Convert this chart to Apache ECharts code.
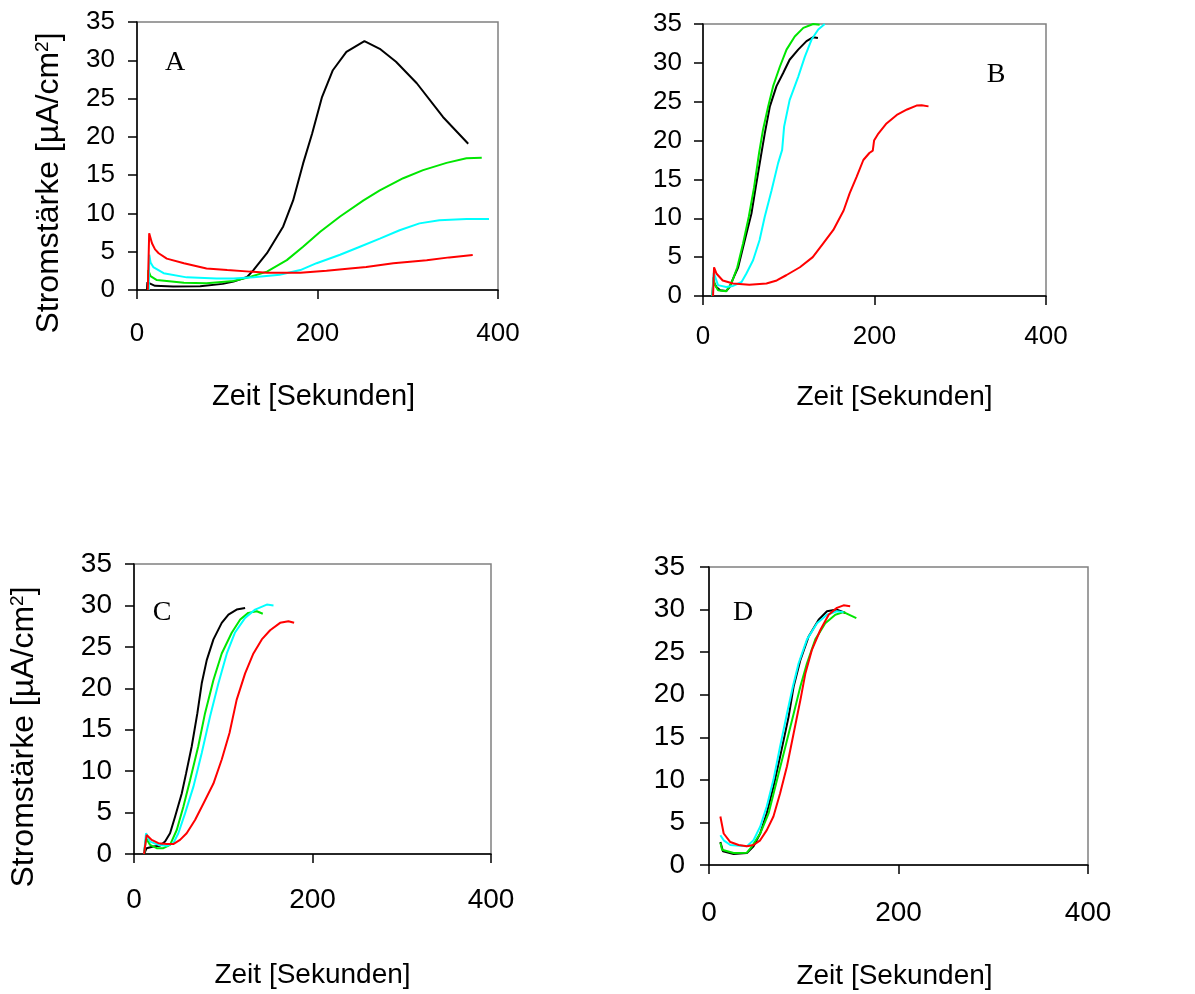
<!DOCTYPE html>
<html>
<head>
<meta charset="utf-8">
<script src="https://cdn.jsdelivr.net/npm/echarts@6/dist/echarts.min.js"></script>
<style>
html,body{margin:0;padding:0;background:#fff;}
#chart{width:1195px;height:994px;}
</style>
</head>
<body>
<div id="chart"></div>
<script>
// ---- Data (x: Zeit [s], y: Stromstärke [µA/cm²]) ----
var xTicks = [0, 200, 400];
var yTicks = [0, 5, 10, 15, 20, 25, 30, 35];
var panelLetters = ['A', 'B', 'C', 'D'];
var seriesColors = ['#000000', '#00e600', '#00ffff', '#ff0000'];

var aBlack = [[11,0],[11.5,1.0],[13,0.8],[20,0.55],[40,0.45],[70,0.5],[95,0.8],[107,1.1],[122,1.7],[129,2.6],[144,4.8],[162,8.3],[173,11.7],[184,16.5],[194,20.4],[205,25.2],[217,28.7],[232,31.1],[252,32.5],[269,31.5],[287,29.8],[310,27],[339,22.6],[367,19.1]];
var aGreen = [[12,0],[12.5,2.6],[15,1.8],[22,1.3],[52,0.96],[77,0.87],[107,1.17],[125,1.7],[144,2.4],[166,3.9],[184,5.65],[203,7.6],[225,9.6],[251,11.7],[269,13.0],[295,14.6],[317,15.65],[343,16.6],[365,17.2],[382,17.26]];
var aCyan = [[13,0],[13.6,4.6],[15,3.6],[18,3.0],[29.5,2.2],[55,1.65],[88,1.5],[107,1.5],[129,1.65],[158,2.0],[181,2.6],[199,3.5],[225,4.6],[247,5.65],[269,6.7],[291,7.8],[313,8.7],[335,9.1],[365,9.26],[390,9.26]];
var aRed = [[12,0],[13.5,7.4],[16.6,6.1],[20,5.3],[24,4.8],[33,4.1],[52,3.5],[77,2.8],[100,2.6],[125,2.4],[144,2.26],[181,2.26],[210,2.5],[236,2.8],[254,3.0],[284,3.5],[321,3.9],[346,4.26],[372,4.57]];

var bBlack = [[11,0],[12,1.9],[15.6,1.16],[20,0.73],[27,0.64],[31,1.16],[35,2.2],[41,3.7],[45,5.5],[50.6,8],[56.5,10.6],[61.5,14],[67.4,17.9],[72,20.9],[78,24.4],[85.7,27],[93.5,28.7],[101,30.4],[111,31.7],[120.7,32.8],[128.5,33.3],[134,33.2]];
var bGreen = [[11,0],[12,2.4],[14,1.4],[17.5,0.73],[27,0.6],[33,1.6],[40,3.7],[46.7,6.75],[53.4,10.2],[59.6,14],[65.4,18.4],[70,21.4],[76,24.4],[81.8,27],[89.6,29.5],[97.4,31.7],[107,33.4],[117,34.5],[128.5,35],[136,34.9]];
var bCyan = [[11,0],[12.5,3.0],[17.5,1.4],[27,1.16],[35,1.3],[45,1.8],[50.6,2.9],[58.4,4.6],[66,7.2],[72,10.2],[80,13.6],[87.6,17.1],[92.3,18.8],[94.6,21.8],[101,25.2],[111,28.2],[118.8,30.8],[126.6,33],[134.4,34.3],[142,35]];
var bRed = [[11.7,0],[12.9,3.7],[15.6,2.9],[23,2.0],[35,1.6],[54,1.46],[74,1.6],[86,2.0],[97,2.67],[113,3.7],[128,5.0],[140,6.75],[152,8.5],[164,11],[171,13.2],[179,15.3],[187,17.5],[194,18.4],[198,18.7],[199.5,20],[204.5,20.9],[214,22.2],[226,23.3],[238,24],[249,24.5],[255,24.55],[263,24.4]];

var cBlack = [[11.2,0],[14.2,0.7],[21.7,0.9],[29,1.0],[34.8,1.5],[40.4,2.5],[46,4.5],[53.5,7.3],[58.3,9.7],[64.7,13],[71,17],[75.9,20.6],[81.5,23.4],[89,25.9],[98.3,27.9],[105.8,28.9],[115,29.5],[124.5,29.7]];
var cGreen = [[11.2,0],[13.5,1.9],[18,1.1],[25.4,0.7],[33,0.7],[40.4,1.1],[47.9,2.9],[55.3,5.7],[62.8,8.9],[72,13],[79.6,17],[89,21],[98.3,24.2],[109.5,26.7],[119,28.3],[128,29.1],[137.6,29.3],[144.3,29]];
var cCyan = [[11.2,0],[13.5,2.5],[18,1.5],[27.3,1.1],[36.6,1.0],[44,1.3],[49.7,2.5],[57.2,4.9],[66.5,8.1],[75.9,12.2],[85.2,16.6],[94.6,20.6],[104,24.2],[113,26.7],[124.5,28.5],[135.7,29.5],[148.8,30.1],[156.3,30]];
var cRed = [[11.2,0],[14.2,2.3],[19.8,1.7],[27.3,1.3],[36.6,1.2],[44,1.2],[51.6,1.7],[59,2.5],[68.4,4.1],[77.8,6.1],[89,8.5],[98.3,11.4],[107,14.6],[115,18.6],[124.5,21.8],[133.8,24.2],[143.2,25.9],[152.5,27],[163.7,27.9],[173,28.1],[179.4,27.9]];

var dBlack = [[12,2.7],[14.8,1.6],[26,1.3],[40,1.4],[47,2.2],[54,3.7],[61,6.1],[68,9.2],[75,12.7],[84,17.4],[89.4,21],[96.5,24.1],[105,26.8],[115.7,28.8],[124.5,29.8],[135,30],[144,29.6]];
var dGreen = [[12,2.6],[13.8,1.8],[26,1.4],[40,1.45],[45.4,2.2],[54,3.7],[63,6.1],[71.8,10],[80.6,13.9],[89.4,17.8],[96.5,21],[103.4,23.7],[112.2,26.5],[122.7,28.4],[133.3,29.4],[142,29.7],[155.5,29]];
var dCyan = [[12,3.5],[15.5,2.9],[22.5,2.35],[40,2.2],[47,2.9],[54,4.5],[61,6.9],[68,10],[75,13.9],[82.3,17.8],[88.6,21],[94.6,23.7],[103.4,26.5],[114,28.4],[124.5,29.4],[135,29.8],[142,29.7]];
var dRed = [[12,5.7],[15.5,3.7],[22.5,2.7],[31.3,2.35],[40,2.2],[47,2.35],[54,2.9],[61,4.1],[68,5.7],[75,8.4],[82.3,11.6],[89.4,15.5],[96.5,19.4],[101.7,22.5],[108.7,25.3],[117.5,27.6],[126.3,29.4],[135,30.2],[142,30.5],[149,30.4]];

var panelData = [
  [aBlack, aGreen, aCyan, aRed],
  [bBlack, bGreen, bCyan, bRed],
  [cBlack, cGreen, cCyan, cRed],
  [dBlack, dGreen, dCyan, dRed]
];

// ---- Layout ----
var SANS = '"Liberation Sans", Arial, sans-serif';
var SERIF = '"Liberation Serif", "Times New Roman", serif';
var grids = [
  {left:137, top:22, width:361, height:268},
  {left:703, top:24, width:343, height:272},
  {left:134, top:564, width:357, height:290},
  {left:709, top:567, width:379, height:298}
];
var tickFont = [26, 26, 28, 28];
var xLabelMargin = [31, 28, 32, 34];
var yLabelMargin = [22, 21, 22, 24];
var xNameFont = [29, 28, 28, 28];
var xNameGap = [92, 87, 107, 97];
var xNamePad = [[0,8,0,0],[0,0,0,40],[0,0,0,0],[0,8,0,0]];
var yName = ['Stromstärke [µA/cm{s|2}]', '', 'Stromstärke [µA/cm{s|2}]', ''];
var yNameGap = [72, 0, 94, 0];
var yNamePad = [[0,54,0,0],[0,0,0,0],[0,56,0,0],[0,0,0,0]];
var letterPos = [[175,63],[996,75],[162,613],[743,613]];

var option = {
  backgroundColor: '#ffffff',
  animation: false,
  grid: grids.map(function(g){
    return Object.assign({show:true, borderColor:'#808080', borderWidth:1.5, backgroundColor:'transparent', containLabel:false}, g);
  }),
  xAxis: grids.map(function(g, i){
    return {
      type:'value', gridIndex:i, min:xTicks[0], max:xTicks[xTicks.length-1], interval:200,
      axisLine:{show:true, onZero:false, lineStyle:{color:'#000', width:1.5}},
      axisTick:{show:true, inside:false, length:9, lineStyle:{color:'#000', width:1.5}},
      splitLine:{show:false},
      axisLabel:{color:'#000', fontFamily:SANS, fontSize:tickFont[i], margin:xLabelMargin[i]},
      name:'Zeit [Sekunden]', nameLocation:'middle', nameGap:xNameGap[i],
      nameTextStyle:{color:'#000', fontFamily:SANS, fontSize:xNameFont[i], padding:xNamePad[i]}
    };
  }),
  yAxis: grids.map(function(g, i){
    return {
      type:'value', gridIndex:i, min:yTicks[0], max:yTicks[yTicks.length-1], interval:5,
      axisLine:{show:true, onZero:false, lineStyle:{color:'#000', width:1.5}},
      axisTick:{show:true, inside:false, length:9, lineStyle:{color:'#000', width:1.5}},
      splitLine:{show:false},
      axisLabel:{color:'#000', fontFamily:SANS, fontSize:tickFont[i], margin:yLabelMargin[i]},
      name:yName[i], nameLocation:'middle', nameGap:yNameGap[i],
      nameTextStyle:{color:'#000', fontFamily:SANS, fontSize:32, padding:yNamePad[i],
        rich:{s:{fontFamily:SANS, fontSize:19, color:'#000', verticalAlign:'top'}}}
    };
  }),
  graphic: letterPos.map(function(p, i){
    return {type:'text', x:p[0], y:p[1], z:100,
      style:{text:panelLetters[i], font:'28px ' + SERIF, fill:'#000', align:'center', verticalAlign:'middle'}};
  }),
  series: []
};

panelData.forEach(function(sets, i){
  sets.forEach(function(d, k){
    option.series.push({
      type:'line', xAxisIndex:i, yAxisIndex:i, data:d,
      showSymbol:false, symbol:'none', smooth:false, clip:true,
      lineStyle:{color:seriesColors[k], width:2}, z:2
    });
  });
});

var chart = echarts.init(document.getElementById('chart'), null, {renderer:'canvas'});
chart.setOption(option);
</script>
</body>
</html>
